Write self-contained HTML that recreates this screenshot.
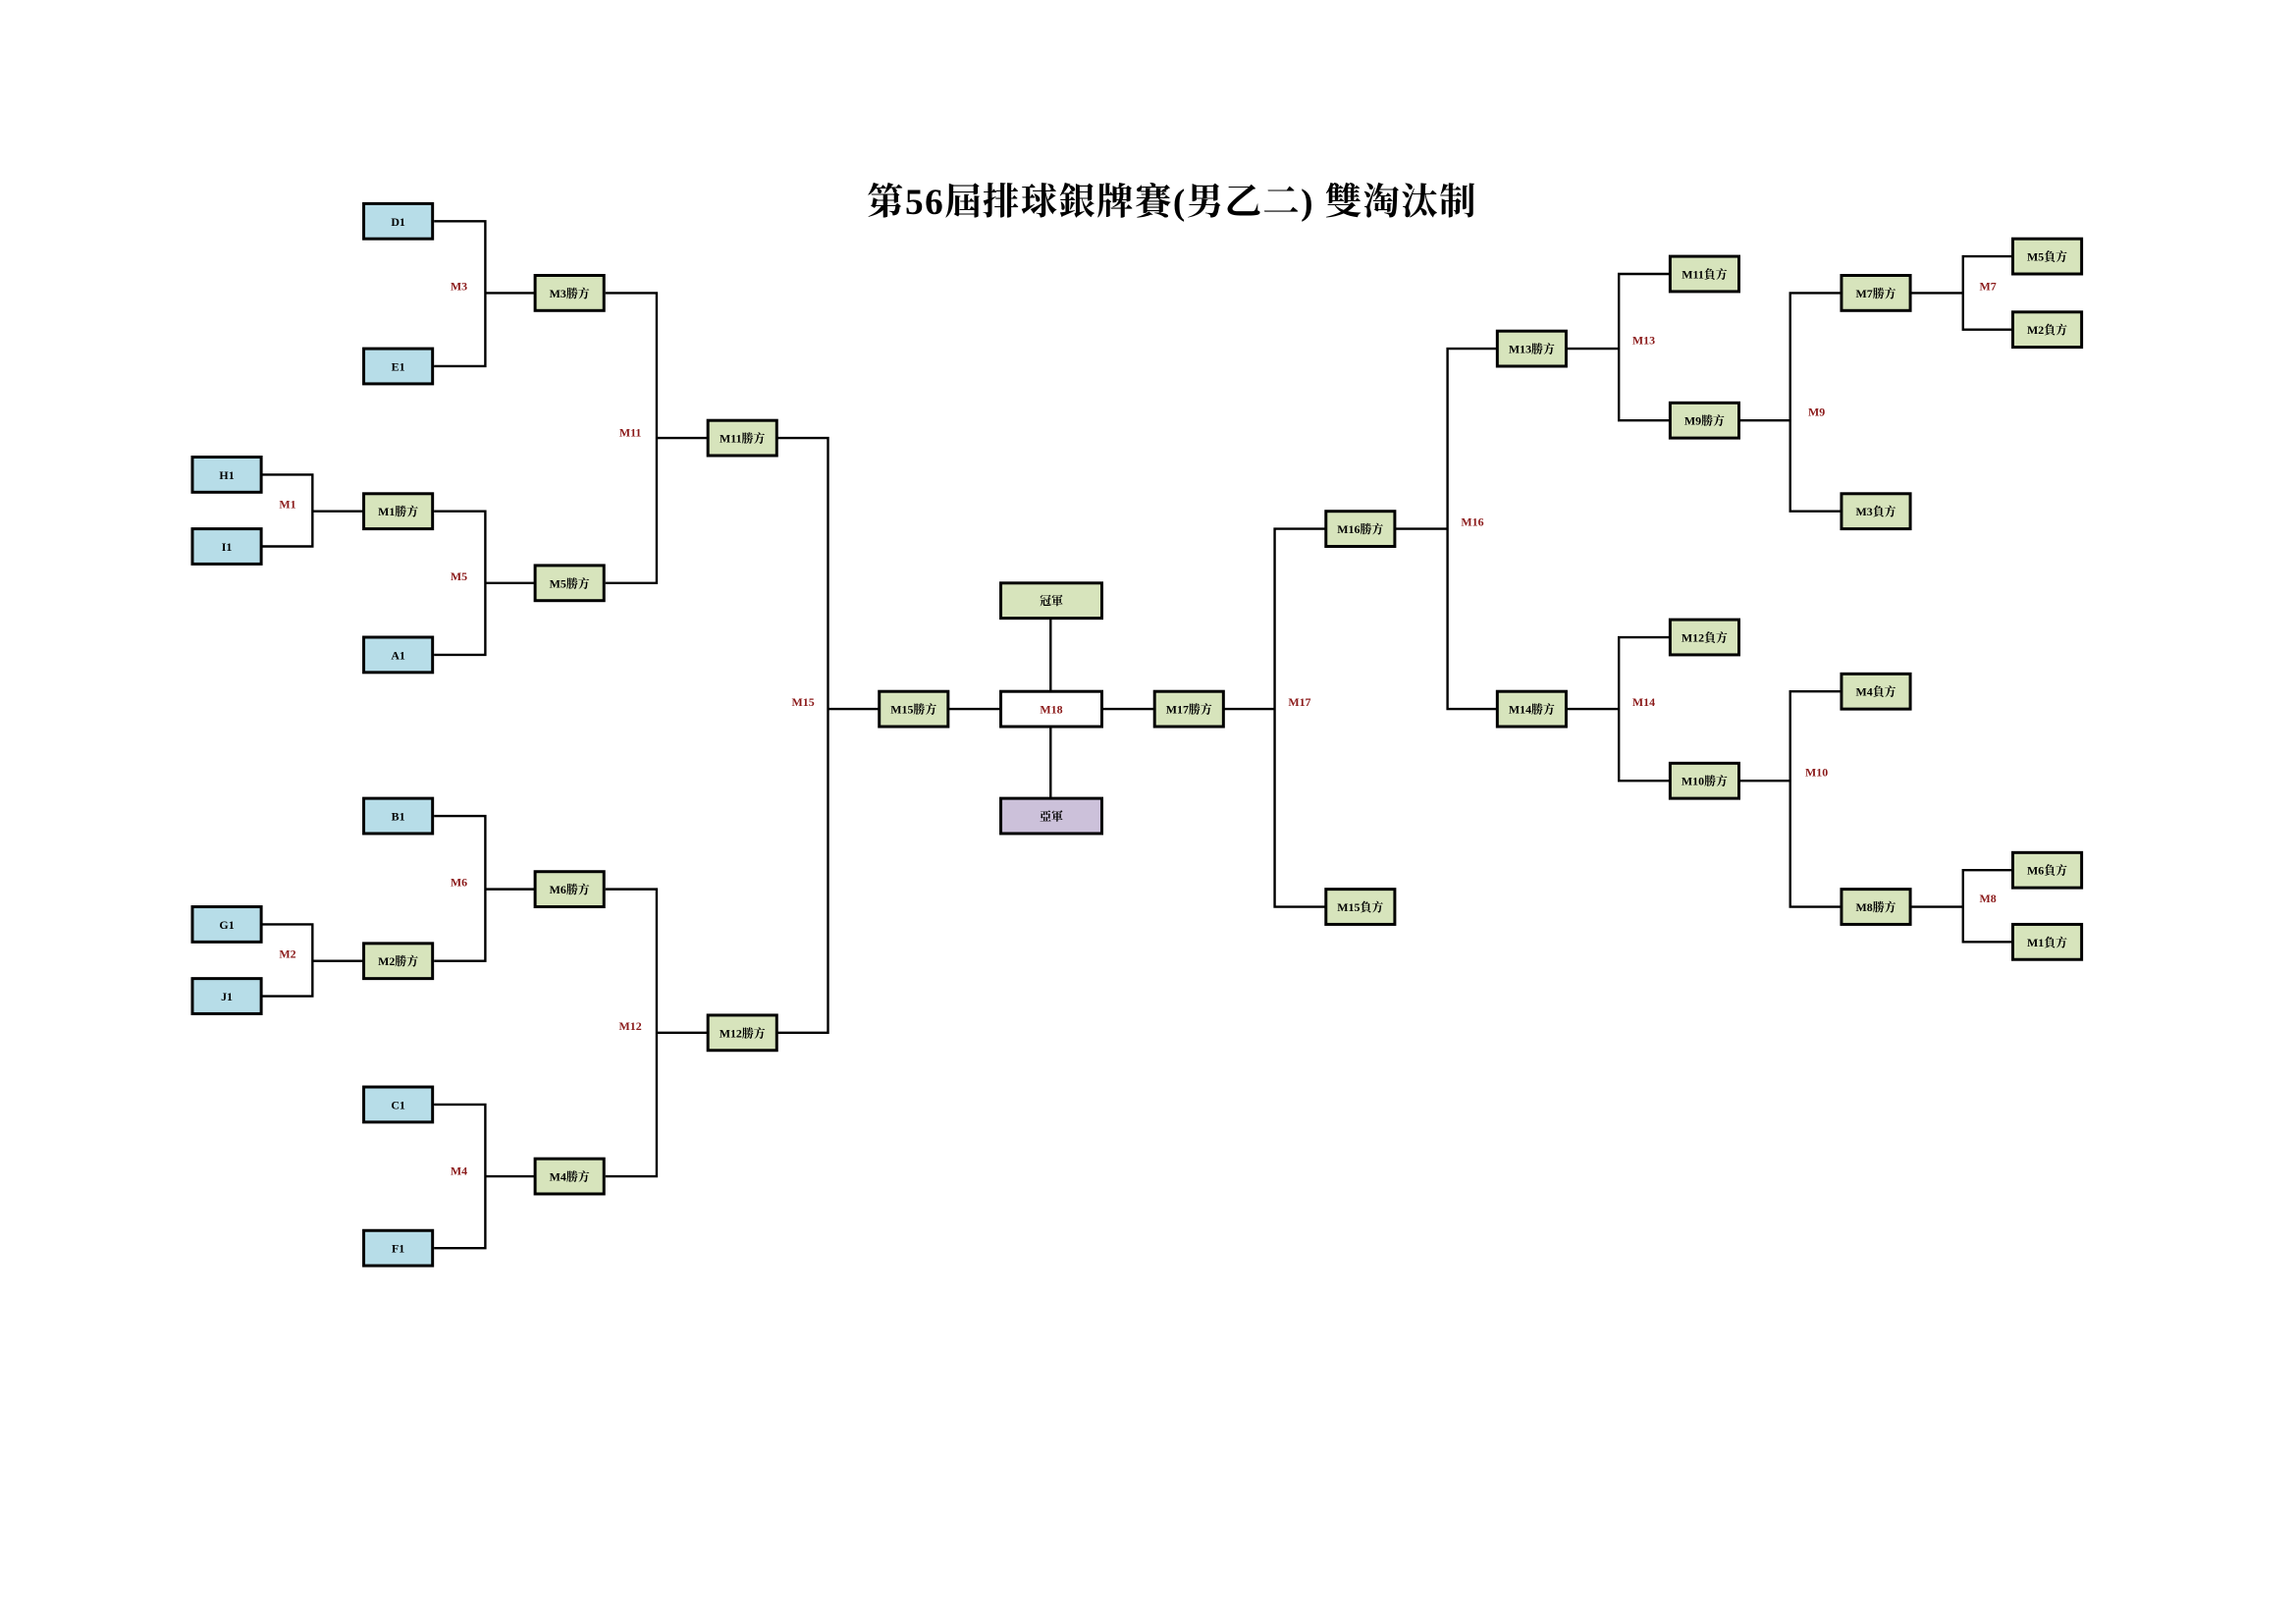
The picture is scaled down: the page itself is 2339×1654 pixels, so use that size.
<!DOCTYPE html>
<html><head><meta charset="utf-8"><style>html,body{margin:0;padding:0;background:#fff}svg{display:block}</style></head>
<body>
<svg width="2339" height="1654" viewBox="0 0 1567 1108.6" xmlns="http://www.w3.org/2000/svg">
<text x="800" y="146" text-anchor="middle" font-family="'Liberation Serif','Noto Serif CJK SC',serif" font-weight="bold" font-size="25" letter-spacing="1" fill="#000">第56屆排球銀牌賽(男乙二) 雙淘汰制</text>
<g fill="none" stroke="#000" stroke-width="1.6">
<path d="M178 324H213V373H178M213 349H248"/>
<path d="M178 631H213V680H178M213 656H248"/>
<path d="M296 151H331V250H296M331 200H365"/>
<path d="M296 349H331V447H296M331 398H365"/>
<path d="M296 557H331V656H296M331 607H365"/>
<path d="M296 754H331V852H296M331 803H365"/>
<path d="M413 200H448V398H413M448 299H483"/>
<path d="M413 607H448V803H413M448 705H483"/>
<path d="M530 299H565V705H530M565 484H600"/>
<path d="M647 484H683M752 484H788M717 422V472M717 496V545"/>
<path d="M835 484H870M905 361H870V619H905"/>
<path d="M952 361H988M1022 238H988V484H1022"/>
<path d="M1069 238H1105M1140 187H1105V287H1140"/>
<path d="M1069 484H1105M1140 435H1105V533H1140"/>
<path d="M1187 287H1222M1257 200H1222V349H1257"/>
<path d="M1187 533H1222M1257 472H1222V619H1257"/>
<path d="M1304 200H1340M1374 175H1340V225H1374"/>
<path d="M1304 619H1340M1374 594H1340V643H1374"/>
</g>
<g stroke="#000" stroke-width="2">
<g fill="#b7dde8">
<rect x="131" y="312" width="47" height="24"/><rect x="131" y="361" width="47" height="24"/>
<rect x="131" y="619" width="47" height="24"/><rect x="131" y="668" width="47" height="24"/>
<rect x="248" y="139" width="47" height="24"/><rect x="248" y="238" width="47" height="24"/>
<rect x="248" y="435" width="47" height="24"/><rect x="248" y="545" width="47" height="24"/>
<rect x="248" y="742" width="47" height="24"/><rect x="248" y="840" width="47" height="24"/>
</g>
<g fill="#d7e4bc">
<rect x="248" y="337" width="47" height="24"/><rect x="248" y="644" width="47" height="24"/>
<rect x="365" y="188" width="47" height="24"/><rect x="365" y="386" width="47" height="24"/>
<rect x="365" y="595" width="47" height="24"/><rect x="365" y="791" width="47" height="24"/>
<rect x="483" y="287" width="47" height="24"/><rect x="483" y="693" width="47" height="24"/>
<rect x="600" y="472" width="47" height="24"/>
<rect x="683" y="398" width="69" height="24"/>
<rect x="788" y="472" width="47" height="24"/>
<rect x="905" y="349" width="47" height="24"/><rect x="905" y="607" width="47" height="24"/>
<rect x="1022" y="226" width="47" height="24"/><rect x="1022" y="472" width="47" height="24"/>
<rect x="1140" y="175" width="47" height="24"/><rect x="1140" y="275" width="47" height="24"/>
<rect x="1140" y="423" width="47" height="24"/><rect x="1140" y="521" width="47" height="24"/>
<rect x="1257" y="188" width="47" height="24"/><rect x="1257" y="337" width="47" height="24"/>
<rect x="1257" y="460" width="47" height="24"/><rect x="1257" y="607" width="47" height="24"/>
<rect x="1374" y="163" width="47" height="24"/><rect x="1374" y="213" width="47" height="24"/>
<rect x="1374" y="582" width="47" height="24"/><rect x="1374" y="631" width="47" height="24"/>
</g>
<rect x="683" y="545" width="69" height="24" fill="#ccc1da"/>
<rect x="683" y="472" width="69" height="24" fill="#fff"/>
</g>
<g font-family="'Liberation Serif','Noto Serif CJK TC',serif" font-weight="bold" font-size="8" text-anchor="middle" fill="#000">
<text x="154.5" y="327">H1</text><text x="154.5" y="376">I1</text><text x="154.5" y="634">G1</text><text x="154.5" y="683">J1</text>
<text x="271.5" y="154">D1</text><text x="271.5" y="253">E1</text><text x="271.5" y="352">M1勝方</text><text x="271.5" y="450">A1</text>
<text x="271.5" y="560">B1</text><text x="271.5" y="659">M2勝方</text><text x="271.5" y="757">C1</text><text x="271.5" y="855">F1</text>
<text x="388.5" y="203">M3勝方</text><text x="388.5" y="401">M5勝方</text><text x="388.5" y="610">M6勝方</text><text x="388.5" y="806">M4勝方</text>
<text x="506.5" y="302">M11勝方</text><text x="506.5" y="708">M12勝方</text>
<text x="623.5" y="487">M15勝方</text>
<text x="717.5" y="413">冠軍</text><text x="717.5" y="560">亞軍</text>
<text x="811.5" y="487">M17勝方</text>
<text x="928.5" y="364">M16勝方</text><text x="928.5" y="622">M15負方</text>
<text x="1045.5" y="241">M13勝方</text><text x="1045.5" y="487">M14勝方</text>
<text x="1163.5" y="190">M11負方</text><text x="1163.5" y="290">M9勝方</text><text x="1163.5" y="438">M12負方</text><text x="1163.5" y="536">M10勝方</text>
<text x="1280.5" y="203">M7勝方</text><text x="1280.5" y="352">M3負方</text><text x="1280.5" y="475">M4負方</text><text x="1280.5" y="622">M8勝方</text>
<text x="1397.5" y="178">M5負方</text><text x="1397.5" y="228">M2負方</text><text x="1397.5" y="597">M6負方</text><text x="1397.5" y="646">M1負方</text>
</g>
<g font-family="'Liberation Serif',serif" font-weight="bold" font-size="8" text-anchor="middle" fill="#8b1a1a">
<text x="717.5" y="487">M18</text>
<text x="196" y="347">M1</text><text x="313" y="198">M3</text><text x="313" y="396">M5</text><text x="313" y="605">M6</text>
<text x="196" y="654">M2</text><text x="313" y="802">M4</text><text x="430" y="298">M11</text><text x="430" y="703">M12</text>
<text x="548" y="482">M15</text><text x="887" y="482">M17</text><text x="1005" y="359">M16</text>
<text x="1122" y="235">M13</text><text x="1122" y="482">M14</text><text x="1240" y="284">M9</text><text x="1240" y="530">M10</text>
<text x="1357" y="198">M7</text><text x="1357" y="616">M8</text>
</g>
</svg>
</body></html>
